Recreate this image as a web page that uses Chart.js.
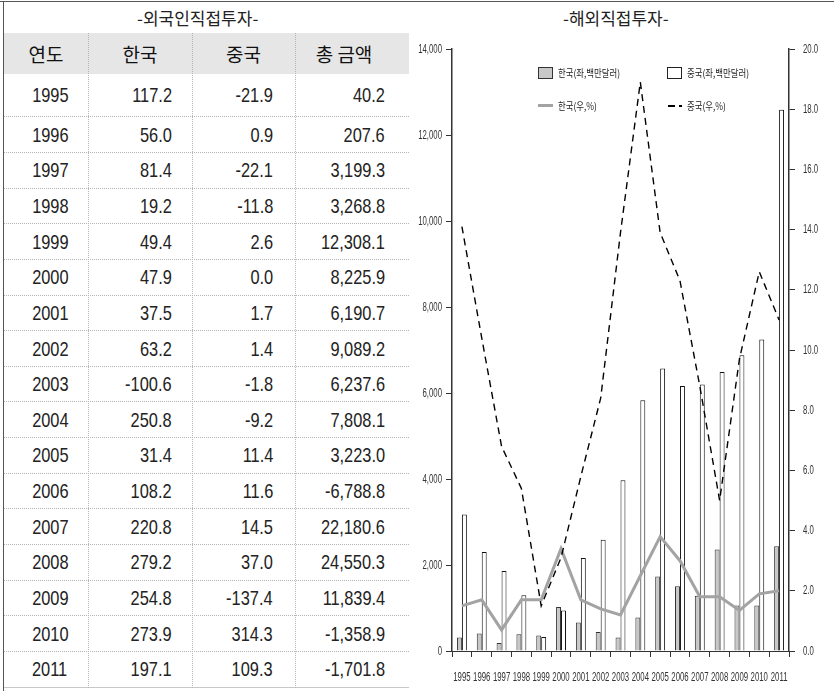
<!DOCTYPE html>
<html><head><meta charset="utf-8">
<script src="https://cdn.jsdelivr.net/npm/chart.js@4.4.0/dist/chart.umd.min.js"></script>
<style>
html,body{margin:0;padding:0;background:#fff;}
body{width:834px;height:691px;position:relative;overflow:hidden;font-family:"Noto Sans CJK KR","Noto Sans",sans-serif;}
#frameTop{position:absolute;left:0;top:1px;width:834px;height:1px;background:#555;}
#frameLeft{position:absolute;left:3px;top:1px;width:1px;height:690px;background:#555;}
.title{position:absolute;font-size:17px;color:#222;line-height:20px;white-space:nowrap;}
#tbl{position:absolute;left:4px;top:33px;width:405px;height:655px;}
.row{position:absolute;left:0;width:405px;box-sizing:border-box;border-bottom:1px dotted #b5b5b5;}
.hdr{background:#e6e6e6;border-bottom:none;}
.cell{position:absolute;top:0;height:100%;display:flex;align-items:center;box-sizing:border-box;white-space:nowrap;}
.num{font-family:"Liberation Sans",Arial,sans-serif;font-size:21px;color:#222;}
.num span{display:inline-block;transform:scaleX(0.78);}
.hcell{font-size:19px;color:#111;justify-content:center;}
.vsep{position:absolute;top:0;width:0;height:655px;border-left:1px dotted #b5b5b5;}
#chartBox{position:absolute;left:410px;top:0;width:424px;height:691px;}
.lg{position:absolute;}
.lgt{position:absolute;font-size:10px;color:#222;line-height:12px;transform:scaleX(0.84);transform-origin:left center;white-space:nowrap;}
</style>
</head>
<body>
<div id="frameTop"></div><div id="frameLeft"></div>
<div class="title" id="t1" style="left:137px;top:8px;">-외국인직접투자-</div>
<div class="title" id="t2" style="left:563px;top:8px;">-해외직접투자-</div>
<div id="tbl"></div>
<div id="chartBox"><canvas id="c" width="424" height="691"></canvas></div>

<div class="lg" style="left:538px;top:67px;width:13px;height:10px;background:#c8c8c8;border:1px solid #333;"></div>
<div class="lgt" style="left:558px;top:67px;">한국(좌,백만달러)</div>
<div class="lg" style="left:667px;top:67px;width:13px;height:10px;background:#fff;border:1px solid #222;"></div>
<div class="lgt" style="left:687px;top:67px;">중국(좌,백만달러)</div>
<div class="lg" style="left:538px;top:104px;width:15px;height:3px;background:#a3a3a3;"></div>
<div class="lgt" style="left:558px;top:100px;">한국(우,%)</div>
<div class="lg" style="left:668px;top:105px;width:7px;height:1.5px;background:#000;"></div>
<div class="lg" style="left:679px;top:105px;width:3px;height:1.5px;background:#000;"></div>
<div class="lgt" style="left:687px;top:100px;">중국(우,%)</div>

<script>
// ---- table data (외국인직접투자) ----
const tableHeaders = ['연도', '한국', '중국', '총 금액'];
const tableYears = ['1995','1996','1997','1998','1999','2000','2001','2002','2003','2004','2005','2006','2007','2008','2009','2010','2011'];
const tableKorea = ['117.2','56.0','81.4','19.2','49.4','47.9','37.5','63.2','-100.6','250.8','31.4','108.2','220.8','279.2','254.8','273.9','197.1'];
const tableChina = ['-21.9','0.9','-22.1','-11.8','2.6','0.0','1.7','1.4','-1.8','-9.2','11.4','11.6','14.5','37.0','-137.4','314.3','109.3'];
const tableTotal = ['40.2','207.6','3,199.3','3,268.8','12,308.1','8,225.9','6,190.7','9,089.2','6,237.6','7,808.1','3,223.0','-6,788.8','22,180.6','24,550.3','11,839.4','-1,358.9','-1,701.8'];

// ---- chart data (해외직접투자) ----
const years = ['1995','1996','1997','1998','1999','2000','2001','2002','2003','2004','2005','2006','2007','2008','2009','2010','2011'];
const koreaBars = [312, 405, 186, 389, 358, 1023, 660, 442, 312, 777, 1735, 1505, 1285, 2358, 1060, 1060, 2435];
const chinaBars = [3172, 2302, 1860, 1295, 326, 940, 2163, 2590, 3970, 5830, 6567, 6163, 6195, 6488, 6877, 7242, 12590];
const koreaPct = [1.5, 1.7, 0.7, 1.7, 1.7, 3.4, 1.7, 1.4, 1.2, 2.5, 3.8, 3.0, 1.8, 1.8, 1.35, 1.9, 2.0];
const chinaPct = [14.1, 10.4, 6.8, 5.4, 1.5, 3.1, 5.8, 8.4, 13.9, 18.9, 13.9, 12.3, 8.8, 5.0, 9.7, 12.6, 11.0];
const leftTickLabels = ['0','2,000','4,000','6,000','8,000','10,000','12,000','14,000'];
const rightTickLabels = ['0.0','2.0','4.0','6.0','8.0','10.0','12.0','14.0','16.0','18.0','20.0'];

// ---- build table ----
const tbl = document.getElementById('tbl');
const colLeft = [0, 84, 188, 291];
const colRight = [84, 188, 291, 405];
const rowTops = [0, 41];
const rowH = [41, 43.3];
for (let i = 1; i < tableYears.length; i++) { rowTops.push(rowTops[i] + rowH[i]); rowH.push(35.65); }
function addRow(top, h, texts, isHdr, last) {
  const r = document.createElement('div');
  r.className = 'row' + (isHdr ? ' hdr' : '');
  r.style.top = top + 'px'; r.style.height = h + 'px';
  if (last) r.style.borderBottom = '1px solid #c8c8c8';
  texts.forEach((t, c) => {
    const d = document.createElement('div');
    d.className = 'cell ' + (isHdr ? 'hcell' : 'num');
    d.style.left = colLeft[c] + 'px';
    d.style.width = (colRight[c] - colLeft[c]) + 'px';
    if (!isHdr) {
      const s = document.createElement('span');
      s.textContent = t;
      if (c === 0) { d.style.justifyContent = 'center'; d.style.paddingLeft = '8px'; s.style.transformOrigin = 'center center'; }
      else { d.style.justifyContent = 'flex-end'; d.style.paddingRight = (c === 1 ? 20 : c === 2 ? 22 : 24) + 'px'; s.style.transformOrigin = 'right center'; }
      d.appendChild(s);
    } else {
      if (c === 3) d.style.paddingRight = '16px';
      d.textContent = t;
    }
    r.appendChild(d);
  });
  tbl.appendChild(r);
}
addRow(0, 41, tableHeaders, true, false);
for (let i = 0; i < tableYears.length; i++) {
  addRow(rowTops[i + 1], rowH[i + 1], [tableYears[i], tableKorea[i], tableChina[i], tableTotal[i]], false, i === tableYears.length - 1);
}
[84, 188, 291].forEach(x => { const v = document.createElement('div'); v.className = 'vsep'; v.style.left = x + 'px'; tbl.appendChild(v); });

// ---- condensed tick labels drawn at the library's own tick positions ----
function drawCondensed(ctx, text, x, y, align) {
  ctx.save();
  ctx.translate(x, y);
  ctx.scale(0.6, 1);
  ctx.textAlign = align;
  ctx.fillText(text, 0, 0);
  ctx.restore();
}
const condensedLabels = {
  id: 'condensedLabels',
  afterDraw(chart) {
    const ctx = chart.ctx;
    ctx.save();
    ctx.fillStyle = '#333';
    ctx.font = '13px "Liberation Sans", Arial, sans-serif';
    ctx.textBaseline = 'middle';
    const sx = chart.scales.x;
    sx.ticks.forEach((t, i) => drawCondensed(ctx, years[i], sx.getPixelForTick(i), chart.chartArea.bottom + 26, 'center'));
    const sy = chart.scales.y;
    sy.ticks.forEach((t, i) => drawCondensed(ctx, leftTickLabels[i], sy.right - 10, sy.getPixelForValue(t.value), 'right'));
    const sy1 = chart.scales.y1;
    sy1.ticks.forEach((t, i) => drawCondensed(ctx, rightTickLabels[i], sy1.left + 14, sy1.getPixelForValue(t.value), 'left'));
    ctx.restore();
  }
};

// ---- chart ----
new Chart(document.getElementById('c').getContext('2d'), {
  type: 'bar',
  data: {
    labels: years,
    datasets: [
      { type: 'line', label: '한국(우,%)', data: koreaPct, yAxisID: 'y1', borderColor: '#a3a3a3', borderWidth: 3, pointRadius: 0, tension: 0, fill: false, order: 1 },
      { type: 'line', label: '중국(우,%)', data: chinaPct, yAxisID: 'y1', borderColor: '#000', borderWidth: 1.4, borderDash: [7, 5], pointRadius: 0, tension: 0, fill: false, order: 0 },
      { label: '한국(좌,백만달러)', data: koreaBars, yAxisID: 'y', backgroundColor: '#c8c8c8', borderColor: '#333', borderWidth: 1, categoryPercentage: 0.5, barPercentage: 1, order: 2 },
      { label: '중국(좌,백만달러)', data: chinaBars, yAxisID: 'y', backgroundColor: '#fff', borderColor: '#111', borderWidth: 1, categoryPercentage: 0.5, barPercentage: 1, order: 2 }
    ]
  },
  options: {
    responsive: false, animation: false, devicePixelRatio: 1,
    layout: { padding: { top: 49, left: 0, right: 0, bottom: 0 } },
    plugins: { legend: { display: false }, tooltip: { enabled: false } },
    scales: {
      x: {
        grid: { display: true, drawOnChartArea: false, offset: true, color: '#333', tickLength: 6 },
        border: { display: true, color: '#333', width: 1 },
        ticks: { display: false, autoSkip: false, maxRotation: 0, minRotation: 0 },
        afterFit(s) { s.height = 40; }
      },
      y: {
        position: 'left', min: 0, max: 14000,
        ticks: { display: false, stepSize: 2000 },
        grid: { drawOnChartArea: false, color: '#333', tickLength: 6 },
        border: { display: true, color: '#333', width: 1.5 },
        afterFit(s) { s.width = 42; }
      },
      y1: {
        position: 'right', min: 0, max: 20,
        ticks: { display: false, stepSize: 2 },
        grid: { drawOnChartArea: false, color: '#333', tickLength: 6 },
        border: { display: true, color: '#333', width: 1.5 },
        afterFit(s) { s.width = 45; }
      }
    }
  },
  plugins: [condensedLabels]
});
</script>
</body></html>
